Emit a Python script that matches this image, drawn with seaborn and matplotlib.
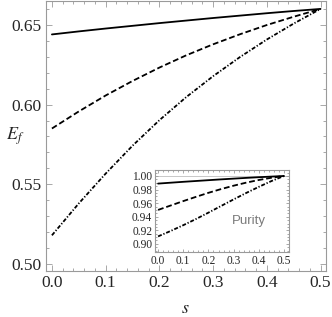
import numpy as np
import pandas as pd
import matplotlib
matplotlib.use("Agg")
import matplotlib.pyplot as plt
from matplotlib.ticker import MultipleLocator
import seaborn as sns

# values
s_vals = [0.0, 0.05, 0.1, 0.15, 0.2, 0.25, 0.3, 0.35, 0.4, 0.45, 0.5]

ef_solid = [0.6440, 0.6459, 0.6477, 0.6494, 0.6511, 0.6527, 0.6543, 0.6558, 0.6573, 0.6587, 0.6600]
ef_dashed = [0.5850, 0.5957, 0.6057, 0.6148, 0.6232, 0.6309, 0.6378, 0.6441, 0.6499, 0.6551, 0.6600]
ef_dotdash = [0.5180, 0.5380, 0.5567, 0.5742, 0.5902, 0.6047, 0.6178, 0.6298, 0.6408, 0.6508, 0.6600]

pur_solid = [0.9888, 0.9901, 0.9914, 0.9926, 0.9938, 0.9950, 0.9961, 0.9972, 0.9982, 0.9991, 1.0000]
pur_dashed = [0.9500, 0.9565, 0.9630, 0.9692, 0.9752, 0.9807, 0.9857, 0.9902, 0.9941, 0.9974, 1.0000]
pur_dotdash = [0.9110, 0.9190, 0.9275, 0.9365, 0.9460, 0.9558, 0.9655, 0.9750, 0.9840, 0.9925, 1.0000]

sns.set_style("ticks")
plt.rcParams["font.family"] = ["Liberation Serif", "DejaVu Serif"]
plt.rcParams["mathtext.fontset"] = "stix"

frame_col = "#9a9a9a"
styles = {
  "solid": "-",
  "dashed": (0, (3.2, 1.6)),
  "dotdash": (0, (2.2, 1.0, 0.7, 1.0)),
}

df_main = pd.DataFrame({
  "s": s_vals * 3,
  "v": ef_solid + ef_dashed + ef_dotdash,
  "kind": ["solid"] * 11 + ["dashed"] * 11 + ["dotdash"] * 11,
})
df_inset = pd.DataFrame({
  "s": s_vals * 3,
  "v": pur_solid + pur_dashed + pur_dotdash,
  "kind": ["solid"] * 11 + ["dashed"] * 11 + ["dotdash"] * 11,
})


def style_frame(ax, labelsize, maj_len, min_len):
  for sp in ax.spines.values():
    sp.set_color(frame_col)
    sp.set_linewidth(0.8)
  ax.tick_params(which="both", direction="in", top=True, right=True,
                 color=frame_col, width=0.6, labelsize=labelsize, pad=3)
  ax.tick_params(which="major", length=maj_len)
  ax.tick_params(which="minor", length=min_len)


fig = plt.figure(figsize=(3.32, 3.17), dpi=100)
ax = fig.add_axes([0.1386, 0.145, 0.843, 0.852])

for kind in ["solid", "dashed", "dotdash"]:
  sns.lineplot(data=df_main[df_main["kind"] == kind], x="s", y="v",
               color="black", linewidth=1.3, ax=ax)
  ax.lines[-1].set_linestyle(styles[kind])

ax.set_xlim(-0.011, 0.51)
ax.set_ylim(0.4956, 0.665)
ax.xaxis.set_major_locator(MultipleLocator(0.1))
ax.xaxis.set_minor_locator(MultipleLocator(0.02))
ax.yaxis.set_major_locator(MultipleLocator(0.05))
ax.yaxis.set_minor_locator(MultipleLocator(0.01))
ax.xaxis.set_major_formatter(lambda v, p: f"{v:.1f}")
ax.yaxis.set_major_formatter(lambda v, p: f"{v:.2f}")
style_frame(ax, 12.5, 4, 2)

ax.set_xlabel(r"$s$", fontsize=13)
ax.set_ylabel(r"$E_f$", fontsize=13, rotation=0)
ax.xaxis.set_label_coords(0.496, -0.107)
ax.yaxis.set_label_coords(-0.11, 0.46)

# inset: purity
ins = fig.add_axes([0.467, 0.205, 0.4036, 0.2587])
for kind in ["solid", "dashed", "dotdash"]:
  sns.lineplot(data=df_inset[df_inset["kind"] == kind], x="s", y="v",
               color="black", linewidth=1.3, ax=ins)
  ins.lines[-1].set_linestyle(styles[kind])
ins.axhline(1.0, color="#c8c8c8", linewidth=0.7, zorder=0)

ins.set_xlim(-0.012, 0.52)
ins.set_ylim(0.888, 1.0088)
ins.xaxis.set_major_locator(MultipleLocator(0.1))
ins.xaxis.set_minor_locator(MultipleLocator(0.02))
ins.yaxis.set_major_locator(MultipleLocator(0.02))
ins.yaxis.set_minor_locator(MultipleLocator(0.005))
ins.xaxis.set_major_formatter(lambda v, p: f"{v:.1f}")
ins.yaxis.set_major_formatter(lambda v, p: f"{v:.2f}")
style_frame(ins, 8.3, 2.5, 1.3)
ins.tick_params(pad=2)
ins.set_xlabel("")
ins.set_ylabel("")
ins.text(0.70, 0.38, "Purity", transform=ins.transAxes, ha="center", va="center",
         fontsize=9.5, color="#7a7a7a", family=["Liberation Sans", "DejaVu Sans"])

plt.savefig("out.png", dpi=100)
